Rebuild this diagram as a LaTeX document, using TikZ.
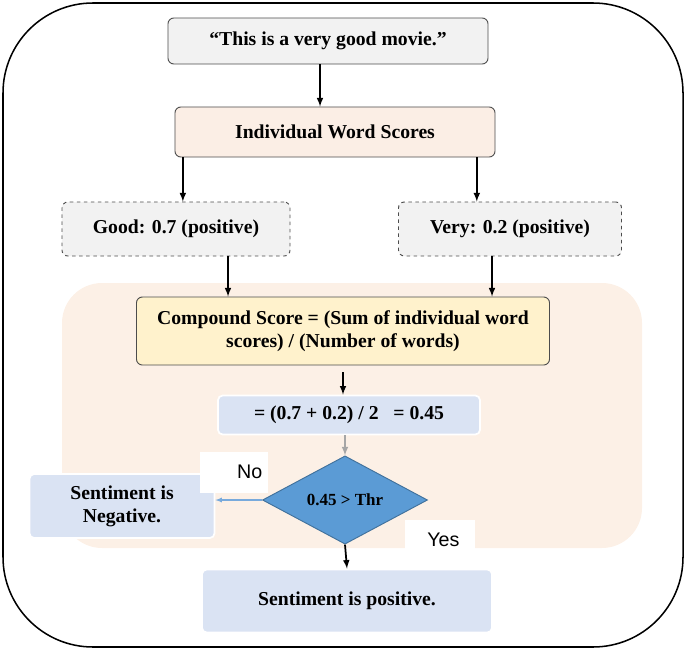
\documentclass[tikz,border=0pt]{standalone}
\usepackage{fontspec}
\setmainfont{Liberation Serif}
\setsansfont{Liberation Sans}
\usetikzlibrary{arrows,positioning,shapes.geometric,backgrounds}

\definecolor{peach}{RGB}{252,240,230}
\definecolor{wordfill}{RGB}{251,238,229}
\definecolor{greyfill}{RGB}{242,242,242}
\definecolor{yellowfill}{RGB}{255,242,204}
\definecolor{bluefill}{RGB}{218,227,243}
\definecolor{decfill}{RGB}{91,155,213}
\definecolor{decline}{RGB}{65,113,156}
\definecolor{noarrow}{RGB}{120,170,220}

\begin{document}
\begin{tikzpicture}[x=0.03cm,y=-0.03cm]%pixel grid
        \fontsize{16.8}{19.5}\selectfont\bfseries
        \tikzstyle{box} = [rectangle,rounded corners=5pt,draw=black!70,line width=0.8pt,align=center,inner sep=0pt]
        \tikzstyle{dbox} = [box,dashed,fill=greyfill]
        \tikzstyle{bbox} = [rectangle,rounded corners=4pt,draw=white,line width=1.5pt,fill=bluefill,align=center,inner sep=0pt]
        \tikzstyle{dec} = [diamond,draw=decline,fill=decfill,line width=0.8pt,inner sep=0pt,minimum width=4.95cm,minimum height=2.4cm,font=\bfseries\fontsize{14.5}{17}\selectfont]
        \tikzstyle{lbl} = [rectangle,fill=white,font=\sffamily\mdseries\fontsize{16.8}{19.5}\selectfont,inner sep=0pt]
        \tikzstyle{arr} = [->,>=latex,line width=1.5pt]
        \useasboundingbox (0,0) rectangle (685,650);

        % outer frame
        \draw[line width=1.3pt,rounded corners=2.7cm] (3,3) rectangle (683,647);

        % input and word scores
        \node[box,fill=greyfill,minimum width=9.6cm,minimum height=1.38cm] (sent) at (328,41) {``This is a very good movie.''};
        \node[box,fill=wordfill,minimum width=9.6cm,minimum height=1.5cm] (iws) at (335,132) {Individual Word Scores};
        \node[dbox,minimum width=6.84cm,minimum height=1.62cm] (good) at (176,229) {Good: 0.7 (positive)};
        \node[dbox,minimum width=6.69cm,minimum height=1.62cm] (very) at (510,229) {Very: 0.2 (positive)};
        \draw[arr] ([xshift=-0.24cm]sent.south) -- ([xshift=-0.24cm]sent.south |- iws.north);
        \draw[arr] ([xshift=0.25cm]iws.south west) -- ([xshift=0.25cm]iws.south west |- good.north);
        \draw[arr] ([xshift=-0.56cm]iws.south east) -- ([xshift=-0.56cm]iws.south east |- very.north);

        % compound score
        \node[box,fill=yellowfill,minimum width=12.39cm,minimum height=2.04cm] (comp) at (343,331) {Compound Score = (Sum of individual word\\scores) / (Number of words)};
        \node[bbox,minimum width=7.86cm,minimum height=1.17cm] (calc) at (349,415) {= (0.7 + 0.2) / 2 \ \ = 0.45};
        \draw[arr] ([xshift=1.56cm]good.south) -- ([xshift=1.56cm]good.south |- comp.north);
        \draw[arr] ([xshift=-0.54cm]very.south) -- ([xshift=-0.54cm]very.south |- comp.north);
        \draw[arr,shorten <=0.2cm] (comp.south) -- (comp.south |- calc.north);

        % decision
        \node[dec] (thr) at (345,500) {0.45 > Thr};
        \node[bbox,minimum width=5.55cm,minimum height=1.92cm] (neg) at (122,506) {Sentiment is\\Negative.};
        \node[bbox,minimum width=8.7cm,minimum height=1.89cm] (pos) at (347,601) {Sentiment is positive.};
        \node[lbl,minimum width=2.04cm,minimum height=1.23cm,text width=1.7cm,inner xsep=0.17cm,align=right] (no) at (234,472) {No};
        \node[lbl,minimum width=2.1cm,minimum height=1.2cm] (yes) at (440,540) {\hspace{0.2cm}Yes};
        \draw[->,>=latex,gray!70,line width=1.5pt] (calc.south -| thr.north) -- (thr.north);
        \draw[->,>=latex,noarrow,line width=0.9pt] (thr.west) -- (thr.west -| neg.east);
        \draw[arr] (thr.south) -- (pos.north);

        % shaded region behind the score steps
        \begin{scope}[on background layer]
          \fill[peach,rounded corners=1.2cm] (62,283) rectangle (642,548);
        \end{scope}
      \end{tikzpicture}
\end{document}
